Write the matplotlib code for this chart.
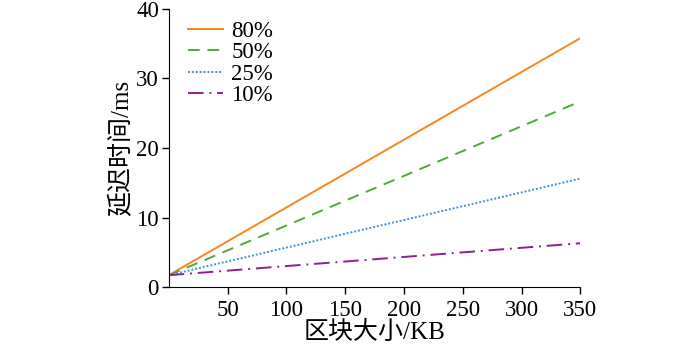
import matplotlib
matplotlib.use('Agg')
import matplotlib.pyplot as plt

# 区块大小 (KB) 与各比例下的延迟时间 (ms)
block_size = [0, 350]
labels = ['80%', '50%', '25%', '10%']
delay_80 = [1.7, 35.8]
delay_50 = [1.7, 26.7]
delay_25 = [1.7, 15.6]
delay_10 = [1.7, 6.3]

colors = ['#f7861f', '#4dab35', '#3f8fdc', '#8e1f8c']
styles = ['-', (0, (6, 4)), (0, (1, 1)), (0, (8, 3, 1, 3))]

font = ['Liberation Serif', 'Noto Sans CJK SC']
plt.rcParams['font.family'] = font
plt.rcParams['font.size'] = 16.5

fig = plt.figure(figsize=(7, 3.45), dpi=100)
ax = fig.add_axes([0.241, 0.168, 0.588, 0.806])

for y, lab, c, ls in zip([delay_80, delay_50, delay_25, delay_10], labels, colors, styles):
    ax.plot(block_size, y, color=c, linestyle=ls, linewidth=1.4, label=lab)

ax.set_xlim(0, 350)
ax.set_ylim(0, 40)
ax.set_xticks([50, 100, 150, 200, 250, 300, 350])
ax.set_yticks([0, 10, 20, 30, 40])
ax.spines['top'].set_visible(False)
ax.spines['right'].set_visible(False)
ax.tick_params(direction='out', length=5, width=1, labelsize=16.5)
ax.tick_params(axis='y', pad=2)
ax.tick_params(axis='x', pad=4)
ax.set_xlabel('区块大小/KB', fontsize=18, labelpad=0)
ax.set_ylabel('延迟时间/ms', fontsize=18, labelpad=2)

ax.legend(loc='upper left', bbox_to_anchor=(0.007, 1.015), frameon=False,
          fontsize=16.5, handlelength=1.55, labelspacing=0.02,
          borderaxespad=0.3, handletextpad=0.35)

fig.savefig('out.png', dpi=100)
